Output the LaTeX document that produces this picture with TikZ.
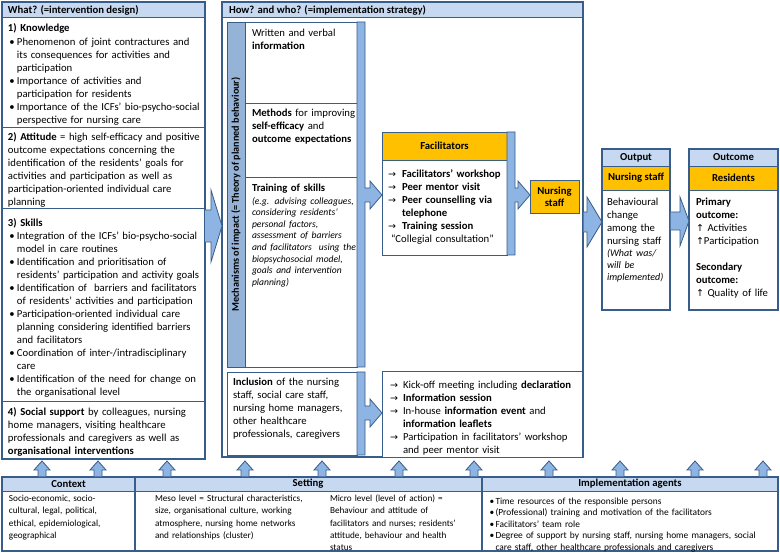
\documentclass[tikz,border=0pt]{standalone}
\usepackage{fontspec}
\setmainfont{Carlito}
\newfontfamily\symfont{DejaVu Sans}
\usetikzlibrary{fit}
\definecolor{bordc}{HTML}{385D8A}
\definecolor{hdrc}{HTML}{C6D9F1}
\definecolor{barc}{HTML}{95B3D7}
\definecolor{arrc}{HTML}{8EB4E3}
\definecolor{orc}{HTML}{FFC000}
\newcommand\rarw{{\symfont\fontsize{9.5}{10}\selectfont →}}
\newcommand\uarw{{\symfont\fontsize{9.5}{10}\selectfont ↑}}
\newcommand\bitem{\par\noindent\hangindent=9pt\hangafter=1\makebox[9pt][l]{\hspace{1.5pt}•}}
\newcommand\sbitem{\par\noindent\hangindent=6.5pt\hangafter=1\makebox[6.5pt][l]{\hspace{0.5pt}•}}
\newcommand\aitem[1]{\par\noindent\hangindent=#1\hangafter=1\makebox[#1][l]{\rarw}}
\begin{document}
\begin{tikzpicture}[x=1pt,y=-1pt,
  frame/.style={draw=bordc, line width=1.3pt, inner sep=0pt, outer sep=0pt},
  box/.style={draw=bordc, line width=0.9pt, fill=white, inner sep=0pt, outer sep=0pt},
  hdr/.style={draw=bordc, line width=0.9pt, fill=hdrc, inner sep=0pt, outer sep=0pt},
  orbox/.style={draw=bordc, line width=0.9pt, fill=orc, inner sep=0pt, outer sep=0pt},
  barbox/.style={draw=bordc, line width=0.9pt, fill=barc, inner sep=0pt, outer sep=0pt},
  blockarr/.style={draw=bordc, line width=0.8pt, fill=arrc, line join=miter},
  txt/.style={inner sep=0pt, outer sep=0pt, align=left, anchor=north west, text width=#1, font=\fontsize{10.7}{13}\selectfont},
  stxt/.style={inner sep=0pt, outer sep=0pt, align=left, anchor=north west, text width=#1, font=\fontsize{9.2}{12.3}\selectfont},
  htxt/.style={inner sep=0pt, outer sep=0pt, font=\bfseries\fontsize{10.7}{12}\selectfont}
]
\fill[white] (0,0) rectangle (780,553);
\useasboundingbox (0,0) rectangle (780,553);

% ---------- left column: What?
\node[frame, fit={(2,2)(205,459)}] (what) {};
\node[hdr, fit={(2,2)(205,17)}] (whath) {};
\node[box, fit={(2,17)(205,127)}] (know) {};
\node[box, fit={(2,127)(205,208)}] (att) {};
\node[box, fit={(2,208)(205,401)}] (skill) {};
\node[box, fit={(2,401)(205,459)}] (soc) {};
\draw[frame] (what.north west) rectangle (what.south east);
\node[htxt, anchor=west] (whatt) at (8,10) {What? (=intervention design)};

\node[txt=240pt] (knowt) at (8,22) {\strut\textbf{1) Knowledge}\par\vspace{1pt}
\bitem Phenomenon of joint contractures and\newline its consequences for activities and\newline participation
\bitem Importance of activities and\newline participation for residents
\bitem Importance of the ICFs’ bio-psycho-social\newline perspective for nursing care\par};

\node[txt=240pt] (attt) at (8,131) {\strut\textbf{2) Attitude} = high self-efficacy and positive\\outcome expectations concerning the\\identification of the residents’ goals for\\activities and participation as well as\\participation-oriented individual care\\planning};

\node[txt=240pt] (skillt) at (8,217) {\strut\textbf{3) Skills}
\bitem Integration of the ICFs’ bio-psycho-social\newline model in care routines
\bitem Identification and prioritisation of\newline residents’ participation and activity goals
\bitem Identification of\ \ barriers and facilitators\newline of residents’ activities and participation
\bitem Participation-oriented individual care\newline planning considering identified barriers\newline and facilitators
\bitem Coordination of inter-/intradisciplinary\newline care
\bitem Identification of the need for change on\newline the organisational level\par};

\node[txt=240pt] (soct) at (8,406) {\strut\textbf{4) Social support} by colleagues, nursing\\home managers, visiting healthcare\\professionals and caregivers as well as\\\textbf{organisational interventions}};

% ---------- middle column: How? and who?
\node[frame, fit={(222,2)(583,457)}] (how) {};
\node[hdr, fit={(222,2)(583,17)}] (howh) {};
\draw[frame] (how.north west) rectangle (how.south east);
\node[htxt, anchor=west] (howt) at (229,10) {How? and who? (=implementation strategy)};

\node[barbox, fit={(227,22)(245,367)}] (mech) {};
\node[htxt, rotate=90, font=\bfseries\fontsize{10.2}{12}\selectfont] (mecht) at (mech.center) {Mechanisms of impact (= Theory of planned behaviour)};
\node[box, fit={(245,22)(357,103)}] (info) {};
\node[box, fit={(245,103)(357,177)}] (meth) {};
\node[box, fit={(245,177)(357,367)}] (train) {};
\node[box, fit={(227,372)(357,455)}] (incl) {};

\node[txt=110pt] (infot) at (252,27) {\strut Written and verbal\\\textbf{information}};
\node[txt=110pt] (metht) at (252,107) {\strut\textbf{Methods} for improving\\\textbf{self-efficacy} and\\\textbf{outcome expectations}};
\node[txt=130pt] (traint) at (252,182) {\strut\textbf{Training of skills}\par\vspace{1.4pt}
{\fontsize{9.6}{11.6}\selectfont\itshape (e.g. advising colleagues,\\considering residents’\\personal factors,\\assessment of barriers\\and facilitators\ \ using the\\biopsychosocial model,\\goals and intervention\\planning)\par}};
\node[txt=130pt] (inclt) at (233,376) {\strut\textbf{Inclusion} of the nursing\\staff, social care staff,\\nursing home managers,\\other healthcare\\professionals, caregivers};

% strips with arrow heads
\draw[blockarr] (357,22) -- (365,22) -- (365,188) -- (370,188) -- (370,181) -- (382,195) -- (370,209) -- (370,202) -- (365,202) -- (365,367) -- (357,367) -- cycle;
\draw[blockarr] (357,372) -- (365,372) -- (365,406) -- (370,406) -- (370,399) -- (382,413) -- (370,427) -- (370,420) -- (365,420) -- (365,455) -- (357,455) -- cycle;

% facilitators
\node[orbox, fit={(382,132)(507,160)}] (facH) {};
\node[box, fit={(382,160)(507,255)}] (facB) {};
\node[htxt] (facHt) at (facH.center) {Facilitators};
\draw[blockarr] (507,132) -- (515,132) -- (515,188) -- (518,188) -- (518,181) -- (530,195) -- (518,209) -- (518,202) -- (515,202) -- (515,255) -- (507,255) -- cycle;
\node[txt=130pt] (facBt) at (388,165) {%
\aitem{14pt}\strut\textbf{Facilitators’ workshop}
\aitem{14pt}\textbf{Peer mentor visit}
\aitem{14pt}\textbf{Peer counselling via}\newline\textbf{telephone}
\aitem{14pt}\textbf{Training session}\par
\noindent\hspace*{3pt}“Collegial consultation”\par};

\node[orbox, fit={(530,180)(579,213)}] (ns) {};
\node[htxt, align=center] (nst) at (ns.center) {Nursing\\staff};

\node[box, fit={(382,371)(583,457)}] (kick) {};
\draw[frame] (how.north east) -- (how.south east);
\node[txt=200pt] (kickt) at (390,376) {%
\aitem{13pt}\strut Kick-off meeting including \textbf{declaration}
\aitem{13pt}\textbf{Information session}
\aitem{13pt}In-house \textbf{information event} and\newline\textbf{information leaflets}
\aitem{13pt}Participation in facilitators’ workshop\newline and peer mentor visit\par};

% ---------- output / outcome
\node[frame, fit={(602,149)(670,310)}] (out) {};
\node[hdr, fit={(602,149)(670,166)}] (outh) {};
\node[orbox, fit={(602,166)(670,190)}] (outo) {};
\draw[frame] (out.north west) rectangle (out.south east);
\node[htxt] (outht) at (outh.center) {Output};
\node[htxt] (outot) at (outo.center) {Nursing staff};
\node[txt=70pt] (outt) at (607,196) {\strut Behavioural\\change\\among the\\nursing staff\par
{\fontsize{10}{12}\selectfont\itshape (What was/\\will be\\implemented)\par}};

\node[frame, fit={(689,149)(778,310)}] (res) {};
\node[hdr, fit={(689,149)(778,166)}] (resh) {};
\node[orbox, fit={(689,166)(778,190)}] (reso) {};
\draw[frame] (res.north west) rectangle (res.south east);
\node[htxt] (resht) at (resh.center) {Outcome};
\node[htxt] (resot) at (reso.center) {Residents};
\node[txt=80pt] (rest) at (696,196) {\strut\textbf{Primary}\\\textbf{outcome:}\\\uarw\ Activities\\\uarw Participation\\[13pt]\textbf{Secondary}\\\textbf{outcome:}\\\uarw\ Quality of life};

% big arrows
\draw[blockarr] (205,210) -- (211,210) -- (211,190) -- (222,226) -- (211,262) -- (211,242) -- (205,242);
\draw[blockarr] (583.6,212) -- (587,212) -- (587,197) -- (602,222) -- (587,247) -- (587,232) -- (583.6,232);
\draw[blockarr] (670.6,212) -- (680,212) -- (680,197) -- (689,221) -- (680,246) -- (680,230) -- (670.6,230);

% ---------- bottom band
\node[box, fit={(2,477)(135,551)}] (ctx) {};
\node[hdr, fit={(2,477)(135,491)}] (ctxh) {};
\node[box, fit={(135,477)(481,551)}] (set) {};
\node[hdr, fit={(135,477)(481,491)}] (seth) {};
\node[box, fit={(482,477)(778,551)}] (agt) {};
\node[hdr, fit={(482,477)(778,491)}] (agth) {};
\draw[frame] (2,477) rectangle (778,551);
\draw[frame] (135,477) -- (135,551);
\draw[frame] (481.5,477) -- (481.5,551);

\node[htxt] (ctxht) at (ctxh.center) {Context};
\node[htxt] (setht) at (seth.center) {Setting};
\node[htxt] (agtht) at (agth.center) {Implementation agents};

\node[stxt=130pt] (ctxt) at (9,493) {\strut Socio-economic, socio-\\cultural, legal, political,\\ethical, epidemiological,\\geographical};
\node[stxt=180pt] (meso) at (155,493) {\strut Meso level = Structural characteristics,\\size, organisational culture, working\\atmosphere, nursing home networks\\and relationships (cluster)};
\node[stxt=160pt] (micro) at (330,493) {\strut Micro level (level of action) =\\Behaviour and attitude of\\facilitators and nurses; residents’\\attitude, behaviour and health\\status};
\node[inner sep=0pt, outer sep=0pt, align=left, anchor=north west, text width=290pt, font=\fontsize{9.4}{11.5}\selectfont] (agtt) at (489,493) {%
\sbitem\strut Time resources of the responsible persons
\sbitem (Professional) training and motivation of the facilitators
\sbitem Facilitators’ team role
\sbitem Degree of support by nursing staff, nursing home managers, social\newline care staff, other healthcare professionals and caregivers\par};

% small up arrows
\foreach \ax in {42,98,167,245,322,399,474,549,620,695,763}{
  \draw[blockarr] ({\ax-4},476.3) -- ({\ax-4},470) -- ({\ax-8},470) -- (\ax,461) -- ({\ax+8},470) -- ({\ax+4},470) -- ({\ax+4},476.3);
}
\end{tikzpicture}
\end{document}
